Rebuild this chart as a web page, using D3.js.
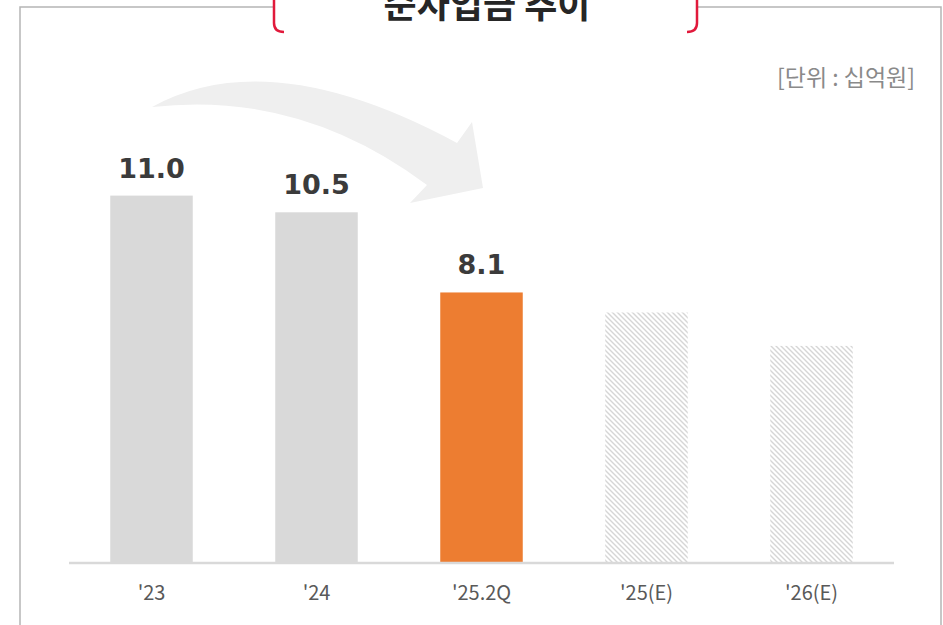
<!DOCTYPE html>
<html>
<head>
<meta charset="utf-8">
<script src="https://cdn.jsdelivr.net/npm/d3@7"></script>
<style>
  body { margin: 0; background: #fff; }
</style>
</head>
<body>
<div id="chart"></div>
<script>
// data
var categories = ["'23", "'24", "'25.2Q", "'25(E)", "'26(E)"];
var values = [11.0, 10.5, 8.1, 7.5, 6.5];
var valueLabels = ["11.0", "10.5", "8.1", "", ""];
var barKinds = ["past", "past", "current", "estimate", "estimate"];
var title = "순차입금 추이";
var unitText = "[단위 : 십억원]";

var width = 943, height = 625;

var svg = d3.select("#chart").append("svg")
    .attr("width", width)
    .attr("height", height);

var defs = svg.append("defs");
var pat = defs.append("pattern")
    .attr("id", "hatch")
    .attr("patternUnits", "userSpaceOnUse")
    .attr("width", 5)
    .attr("height", 5);
pat.append("rect").attr("width", 5).attr("height", 5).attr("fill", "#fff");
pat.append("path")
    .attr("d", "M-1,-1 L6,6 M-1,4 L1,6 M4,-1 L6,1")
    .attr("stroke", "#d6d6d6")
    .attr("stroke-width", 1.4);

// frame
var frame = svg.append("g")
    .attr("fill", "none")
    .attr("stroke", "#b5b5b5")
    .attr("stroke-width", 1.5);
frame.append("path").attr("d", "M20,626 L20,7 L274,7");
frame.append("path").attr("d", "M697,7 L941,7 L941,626");

// title brackets
var red = svg.append("g")
    .attr("fill", "none")
    .attr("stroke", "#e1193b")
    .attr("stroke-width", 2.5);
red.append("path").attr("d", "M274,0 L274,23 Q274,32 284,32");
red.append("path").attr("d", "M697,0 L697,23 Q697,32 687,32");

svg.append("text")
    .attr("x", 487)
    .attr("y", 18)
    .attr("text-anchor", "middle")
    .style("font-family", "'Noto Sans CJK KR', sans-serif")
    .style("font-weight", "bold")
    .style("font-size", "36px")
    .attr("fill", "#262626")
    .text(title);

svg.append("text")
    .attr("x", 915)
    .attr("y", 86)
    .attr("text-anchor", "end")
    .style("font-family", "'Noto Sans CJK KR', sans-serif")
    .style("font-size", "23px")
    .attr("fill", "#8a8a8a")
    .text(unitText);

// trend arrow
svg.append("path")
    .attr("d", "M152,107 Q270,42 457,143 L472,122 L483,188 L410,203 L427,185 Q300,90 152,107 Z")
    .attr("fill", "#efefef");

// scales
var x = d3.scaleBand()
    .domain(categories)
    .range([69, 894])
    .paddingInner(0.5)
    .paddingOuter(0.25);

var y = d3.scaleLinear()
    .domain([0, 12])
    .range([563, 563 - 12 * 33.4]);

var colorOf = {past: "#d9d9d9", current: "#ed7d31", estimate: "url(#hatch)"};

svg.append("g").selectAll("rect")
    .data(values)
    .enter().append("rect")
    .attr("x", function(d, i){ return x(categories[i]); })
    .attr("y", function(d){ return y(d); })
    .attr("width", x.bandwidth())
    .attr("height", function(d){ return y(0) - y(d); })
    .attr("fill", function(d, i){ return colorOf[barKinds[i]]; });

svg.append("g").selectAll("text")
    .data(values)
    .enter().append("text")
    .attr("x", function(d, i){ return x(categories[i]) + x.bandwidth() / 2; })
    .attr("y", function(d){ return y(d) - 18; })
    .attr("text-anchor", "middle")
    .style("font-family", "'DejaVu Sans', sans-serif")
    .style("font-weight", "bold")
    .style("font-size", "27px")
    .attr("fill", "#3b3b3b")
    .text(function(d, i){ return valueLabels[i]; });

// x axis
var axis = svg.append("g")
    .attr("transform", "translate(0," + y(0) + ")")
    .call(d3.axisBottom(x).tickSize(0).tickPadding(23));
axis.select(".domain")
    .attr("d", "M69,0 H894")
    .attr("stroke", "#d9d9d9")
    .attr("stroke-width", 2.5);
axis.selectAll("text")
    .style("font-family", "'Noto Sans CJK KR', sans-serif")
    .style("font-size", "20px")
    .attr("fill", "#595959");
</script>
</body>
</html>
